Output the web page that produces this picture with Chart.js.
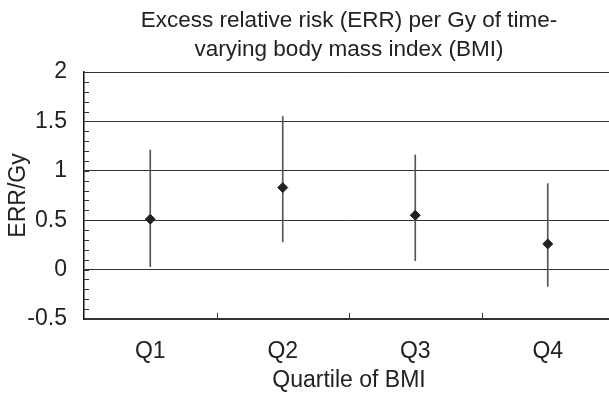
<!DOCTYPE html>
<html lang="en">
<head>
    <meta charset="UTF-8">
    <title>ERR per Gy by BMI quartile</title>
    <script src="https://cdn.jsdelivr.net/npm/chart.js"></script>
    <style>
        html, body { margin: 0; padding: 0; background: #fff; overflow: hidden; }
        #wrap { width: 620px; height: 394px; }
    </style>
</head>
<body>
    <div id="wrap"><canvas id="errChart" width="620" height="394"></canvas></div>
    <script>
        // data
        const quartiles = ['Q1', 'Q2', 'Q3', 'Q4'];
        const errPerGy = [0.51, 0.83, 0.55, 0.26];
        const ciLower = [0.03, 0.28, 0.09, -0.17];
        const ciUpper = [1.21, 1.55, 1.16, 0.87];

        const ink = '#222';
        const fontFamily = '"Liberation Sans", Arial, sans-serif';

        // small inward tick marks (0.1 steps on y, category edges on x)
        const minorTicks = {
            id: 'minorTicks',
            afterDraw(chart) {
                const { ctx, chartArea } = chart;
                const y = chart.scales.y, x = chart.scales.x;
                ctx.save();
                ctx.strokeStyle = '#333';
                ctx.lineWidth = 1;
                ctx.beginPath();
                for (let i = -5; i <= 20; i++) {
                    const py = Math.round(y.getPixelForValue(i / 10)) + 0.5;
                    ctx.moveTo(chartArea.left, py);
                    ctx.lineTo(chartArea.left + 5, py);
                }
                for (let i = 1; i < quartiles.length; i++) {
                    const px = Math.round((x.getPixelForValue(i - 1) + x.getPixelForValue(i)) / 2) + 0.5;
                    ctx.moveTo(px, chartArea.bottom);
                    ctx.lineTo(px, chartArea.bottom - 6);
                }
                ctx.stroke();
                ctx.restore();
            }
        };

        const ctx = document.getElementById('errChart').getContext('2d');
        new Chart(ctx, {
            type: 'bar',
            data: {
                labels: quartiles,
                datasets: [{
                    // confidence interval drawn as a thin floating bar
                    data: quartiles.map((q, i) => [ciLower[i], ciUpper[i]]),
                    backgroundColor: '#555',
                    barThickness: 1,
                    order: 2
                }, {
                    type: 'line',
                    data: errPerGy,
                    showLine: false,
                    pointStyle: 'rectRot',
                    pointRadius: 5,
                    pointBackgroundColor: ink,
                    pointBorderColor: ink,
                    order: 1
                }]
            },
            options: {
                responsive: false,
                animation: false,
                layout: { padding: 0 },
                plugins: {
                    legend: { display: false },
                    tooltip: { enabled: false },
                    title: {
                        display: true,
                        fullSize: false,
                        text: ['Excess relative risk (ERR) per Gy of time-', 'varying body mass index (BMI)'],
                        color: ink,
                        font: { family: fontFamily, size: 22.5, weight: 'normal', lineHeight: 1.3 },
                        padding: { top: 6, bottom: 7.5 }
                    }
                },
                scales: {
                    x: {
                        afterFit(scale) { scale.height = 75; },
                        grid: { display: false },
                        border: { display: true, color: '#333', width: 1.5 },
                        ticks: { color: ink, padding: 11, font: { family: fontFamily, size: 23 } },
                        title: {
                            display: true,
                            text: 'Quartile of BMI',
                            color: ink,
                            padding: 0,
                            font: { family: fontFamily, size: 23 }
                        }
                    },
                    y: {
                        min: -0.5,
                        max: 2,
                        afterFit(scale) { scale.width = 84; },
                        ticks: {
                            stepSize: 0.5,
                            color: ink,
                            padding: 17,
                            font: { family: fontFamily, size: 23 },
                            callback: (v) => String(Math.round(v * 10) / 10)
                        },
                        grid: { color: '#333', lineWidth: 1, drawTicks: false },
                        border: { display: true, color: '#111', width: 1.5 },
                        title: {
                            display: true,
                            text: 'ERR/Gy',
                            color: ink,
                            padding: 5,
                            font: { family: fontFamily, size: 23 }
                        }
                    }
                }
            },
            plugins: [minorTicks]
        });
    </script>
</body>
</html>
